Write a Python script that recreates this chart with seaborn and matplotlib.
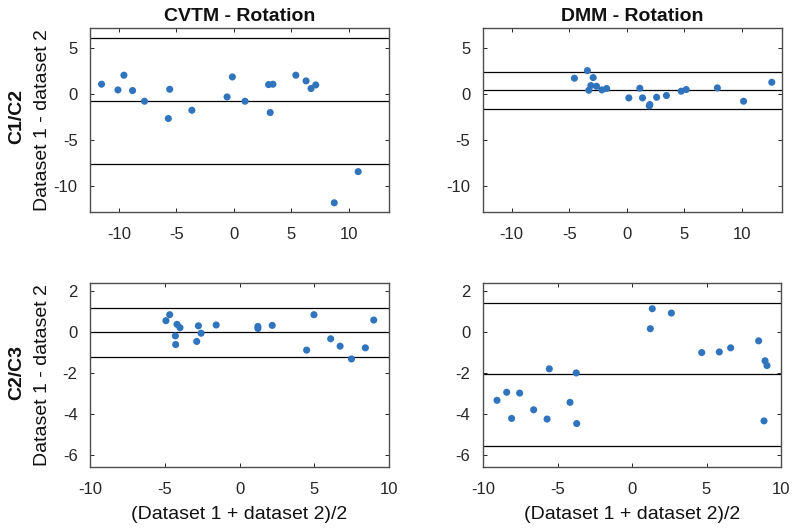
import numpy as np
import pandas as pd
import matplotlib
matplotlib.use("Agg")
import matplotlib.pyplot as plt
import seaborn as sns

# Bland-Altman data
cvtm_c12_x = [-11.5, -10.07, -9.55, -8.8, -7.76, -5.69, -5.57, -3.64, -0.58, -0.12,
              0.98, 3.03, 3.17, 3.41, 5.40, 6.29, 6.72, 7.13, 8.74, 10.82]
cvtm_c12_y = [1.09, 0.47, 2.07, 0.40, -0.76, -2.64, 0.54, -1.74, -0.29, 1.88,
              -0.76, 1.05, -1.99, 1.09, 2.07, 1.45, 0.62, 1.01, -11.8, -8.41]
cvtm_c12_lines = [6.1, -0.75, -7.6]

dmm_c12_x = [-4.55, -3.42, -3.30, -3.12, -2.92, -2.63, -2.16, -1.75, 0.18, 1.14,
             1.37, 1.96, 2.01, 2.60, 3.45, 4.73, 5.17, 7.88, 10.16, 12.61]
dmm_c12_y = [1.74, 2.57, 0.43, 0.94, 1.81, 0.87, 0.47, 0.62, -0.40, 0.65,
             -0.40, -1.27, -1.12, -0.33, -0.14, 0.33, 0.51, 0.69, -0.76, 1.30]
dmm_c12_lines = [2.39, 0.42, -1.56]

cvtm_c23_x = [-4.92, -4.67, -4.29, -4.27, -4.18, -3.98, -2.86, -2.75, -2.57, -1.56,
              1.23, 1.23, 2.19, 4.49, 4.98, 6.10, 6.73, 7.49, 8.42, 8.98]
cvtm_c23_y = [0.54, 0.83, -0.20, -0.62, 0.36, 0.20, -0.47, 0.29, -0.07, 0.33,
              0.26, 0.16, 0.31, -0.89, 0.83, -0.34, -0.70, -1.32, -0.78, 0.57]
cvtm_c23_lines = [1.14, -0.02, -1.24]

dmm_c23_x = [-9.06, -8.41, -8.08, -7.54, -6.60, -5.70, -5.55, -4.16, -3.74, -3.71,
             1.23, 1.36, 2.64, 4.68, 5.86, 6.62, 8.50, 8.86, 8.93, 9.06]
dmm_c23_y = [-3.33, -2.94, -4.21, -2.98, -3.79, -4.24, -1.80, -3.43, -2.00, -4.46,
             0.15, 1.12, 0.91, -1.01, -0.98, -0.78, -0.44, -4.33, -1.41, -1.64]
dmm_c23_lines = [1.40, -2.07, -5.56]

sns.set_style("ticks")
plt.rcParams['font.family'] = ['Liberation Sans', 'DejaVu Sans']
plt.rcParams['axes.unicode_minus'] = False

fig = plt.figure(figsize=(7.92, 5.28), dpi=100)

W, H = 792, 528
def make_ax(x0, y0, x1, y1):
    return fig.add_axes([x0 / W, 1 - y1 / H, (x1 - x0) / W, (y1 - y0) / H])

axes = [make_ax(90, 28, 389, 212), make_ax(483, 28, 782, 212),
        make_ax(90, 283, 389, 467), make_ax(483, 283, 781, 467)]

panels = [(cvtm_c12_x, cvtm_c12_y, cvtm_c12_lines),
          (dmm_c12_x, dmm_c12_y, dmm_c12_lines),
          (cvtm_c23_x, cvtm_c23_y, cvtm_c23_lines),
          (dmm_c23_x, dmm_c23_y, dmm_c23_lines)]

dark = '#262626'
for i, (ax, (xs, ys, lines)) in enumerate(zip(axes, panels)):
    df = pd.DataFrame({'x': xs, 'y': ys})
    for v in lines:
        ax.axhline(v, color='black', lw=0.9, zorder=1)
    sns.scatterplot(data=df, x='x', y='y', ax=ax, color='#2f74bd', s=26,
                    edgecolor='none', zorder=3)
    if i < 2:
        ax.set_xlim(-12.5, 13.5)
        ax.set_ylim(-12.8, 7.2)
        ax.set_xticks([-10, -5, 0, 5, 10])
        ax.set_yticks([-10, -5, 0, 5])
    else:
        ax.set_xlim(-10, 10)
        ax.set_ylim(-6.57, 2.37)
        ax.set_xticks([-10, -5, 0, 5, 10])
        ax.set_yticks([-6, -4, -2, 0, 2])
    ax.tick_params(direction='in', length=3, width=0.7, colors=dark,
                   labelsize=12, top=True, right=True)
    ax.tick_params(axis='x', pad=11)
    ax.tick_params(axis='y', pad=9)
    for sp in ax.spines.values():
        sp.set_visible(True)
        sp.set_color('#4d4d4d')
        sp.set_linewidth(1.0)
    ax.set_xlabel('')
    ax.set_ylabel('')

axes[0].set_title('CVTM - Rotation', fontsize=14, fontweight='bold', pad=5, color='#111111')
axes[1].set_title('DMM - Rotation', fontsize=14, fontweight='bold', pad=5, color='#111111')

for ax in (axes[0], axes[2]):
    ax.set_ylabel('Dataset 1 - dataset 2', fontsize=14, color='#111111')
    ax.yaxis.set_label_coords((51 - 90) / 299, 0.5)
for ax in (axes[2], axes[3]):
    ax.set_xlabel('(Dataset 1 + dataset 2)/2', fontsize=14, color='#111111')
    ax.xaxis.set_label_coords(0.5, -(506 - 467) / 184)

fig.text(17 / W, 1 - 117 / H, 'C1/C2', rotation=90, fontsize=14, fontweight='bold',
         ha='center', va='center', color='#111111')
fig.text(17 / W, 1 - 372 / H, 'C2/C3', rotation=90, fontsize=14, fontweight='bold',
         ha='center', va='center', color='#111111')

fig.savefig('out.png', dpi=100)
